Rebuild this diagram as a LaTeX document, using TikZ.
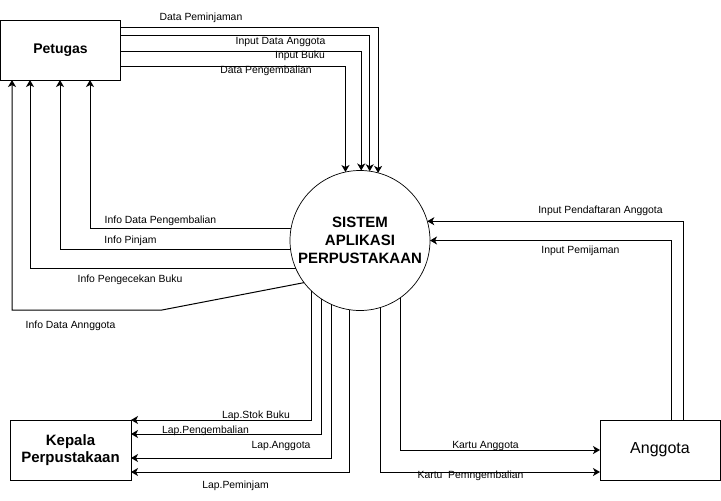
\documentclass[tikz,border=0pt]{standalone}
\usepackage{fontspec}
\setmainfont{Liberation Sans}
\usetikzlibrary{arrows.meta}
\tikzset{entity/.style = {draw, rectangle, inner sep = 0, outer sep = 0, minimum width = 120pt, minimum height = 60pt, align = center}}
\tikzset{proc/.style = {draw, circle, line width = 0.7pt, inner sep = 0, outer sep = 0, minimum size = 140pt, align = center}}
\tikzset{flow/.style = {-{Stealth[length = 7pt, width = 8pt, inset = 2pt]}, line width = 1pt}}
\tikzset{lbl/.style = {inner sep = 0, font = \fontsize{10.4}{12}\selectfont}}

\begin{document}
\begin{tikzpicture}[x = 1pt, y = -1pt]
    \useasboundingbox (0, 0) rectangle (721, 501);

    \node [entity, font = \fontsize{14}{17}\selectfont\bfseries] (pet) at (60.5, 50) {Petugas};
    \node [entity, minimum width = 121pt, font = \fontsize{15}{17.5}\selectfont\bfseries] (kep) at (70.5, 450) {Kepala\\Perpustakaan};
    \node [entity, font = \fontsize{16}{19}\selectfont] (ang) at (660, 450) {Anggota};
    \node [proc, font = \fontsize{15}{18}\selectfont\bfseries] (sys) at (360, 240.5) {SISTEM\\APLIKASI\\PERPUSTAKAAN};

    \draw [flow] (pet.east |- 0, 27) -| (sys.75);
    \draw [flow] (pet.east |- 0, 35) -| (sys.82.6);
    \draw [flow] (pet.east |- 0, 51) -| (sys.89);
    \draw [flow] (pet.east |- 0, 66) -| (sys.102);

    \node [lbl] (lpinjam) at (201, 18) {Data Peminjaman};
    \node [lbl] (linagt) at (280.5, 41.5) {Input Data Anggota};
    \node [lbl] (linbuku) at (300, 56) {Input Buku};
    \node [lbl] (lkembali) at (266, 71) {Data Pengembalian};

    \draw [flow] (sys.170.5) -| (pet.south -| 90, 0);
    \draw [flow] (sys.187.8) -| (pet.south -| 60, 0);
    \draw [flow] (sys.204.9) -| (pet.south -| 30, 0);
    \draw [flow] (sys.217.5) -- (162, 310) -| (pet.south -| 12, 0);

    \node [lbl] (linfokembali) at (160.5, 221) {Info Data Pengembalian};
    \node [lbl] (linfopinjam) at (130.5, 241) {Info Pinjam};
    \node [lbl] (linfocek) at (130, 280) {Info Pengecekan Buku};
    \node [lbl] (linfoagt) at (70.5, 326) {Info Data Annggota};

    \draw [flow] (sys.226.7) |- (kep.east |- 0, 420);
    \draw [flow] (sys.237.1) |- (kep.east |- 0, 434);
    \draw [flow] (sys.246.4) |- (kep.east |- 0, 458);
    \draw [flow] (sys.261.8) |- (kep.east |- 0, 472);

    \node [lbl] (lstok) at (256, 416) {Lap.Stok Buku};
    \node [lbl] (llapkembali) at (205.5, 431) {Lap.Pengembalian};
    \node [lbl] (llapagt) at (281, 446) {Lap.Anggota};
    \node [lbl] (llappinjam) at (235.5, 486) {Lap.Peminjam};

    \draw [flow] (ang.north -| 683, 0) |- (sys.16.2);
    \draw [flow] (ang.north -| 671, 0) |- (sys.east);
    \draw [flow] (sys.305.9) |- (ang.west);
    \draw [flow] (sys.287.5) |- (ang.west |- 0, 472);

    \node [lbl] (ldaftar) at (600.5, 211) {Input Pendaftaran Anggota};
    \node [lbl] (linpinjam) at (580.5, 251) {Input Pemijaman};
    \node [lbl] (lkartu) at (485.5, 446) {Kartu Anggota};
    \node [lbl] (lkartukembali) at (470.5, 476) {Kartu\ \ Pemngembalian};
\end{tikzpicture}
\end{document}
